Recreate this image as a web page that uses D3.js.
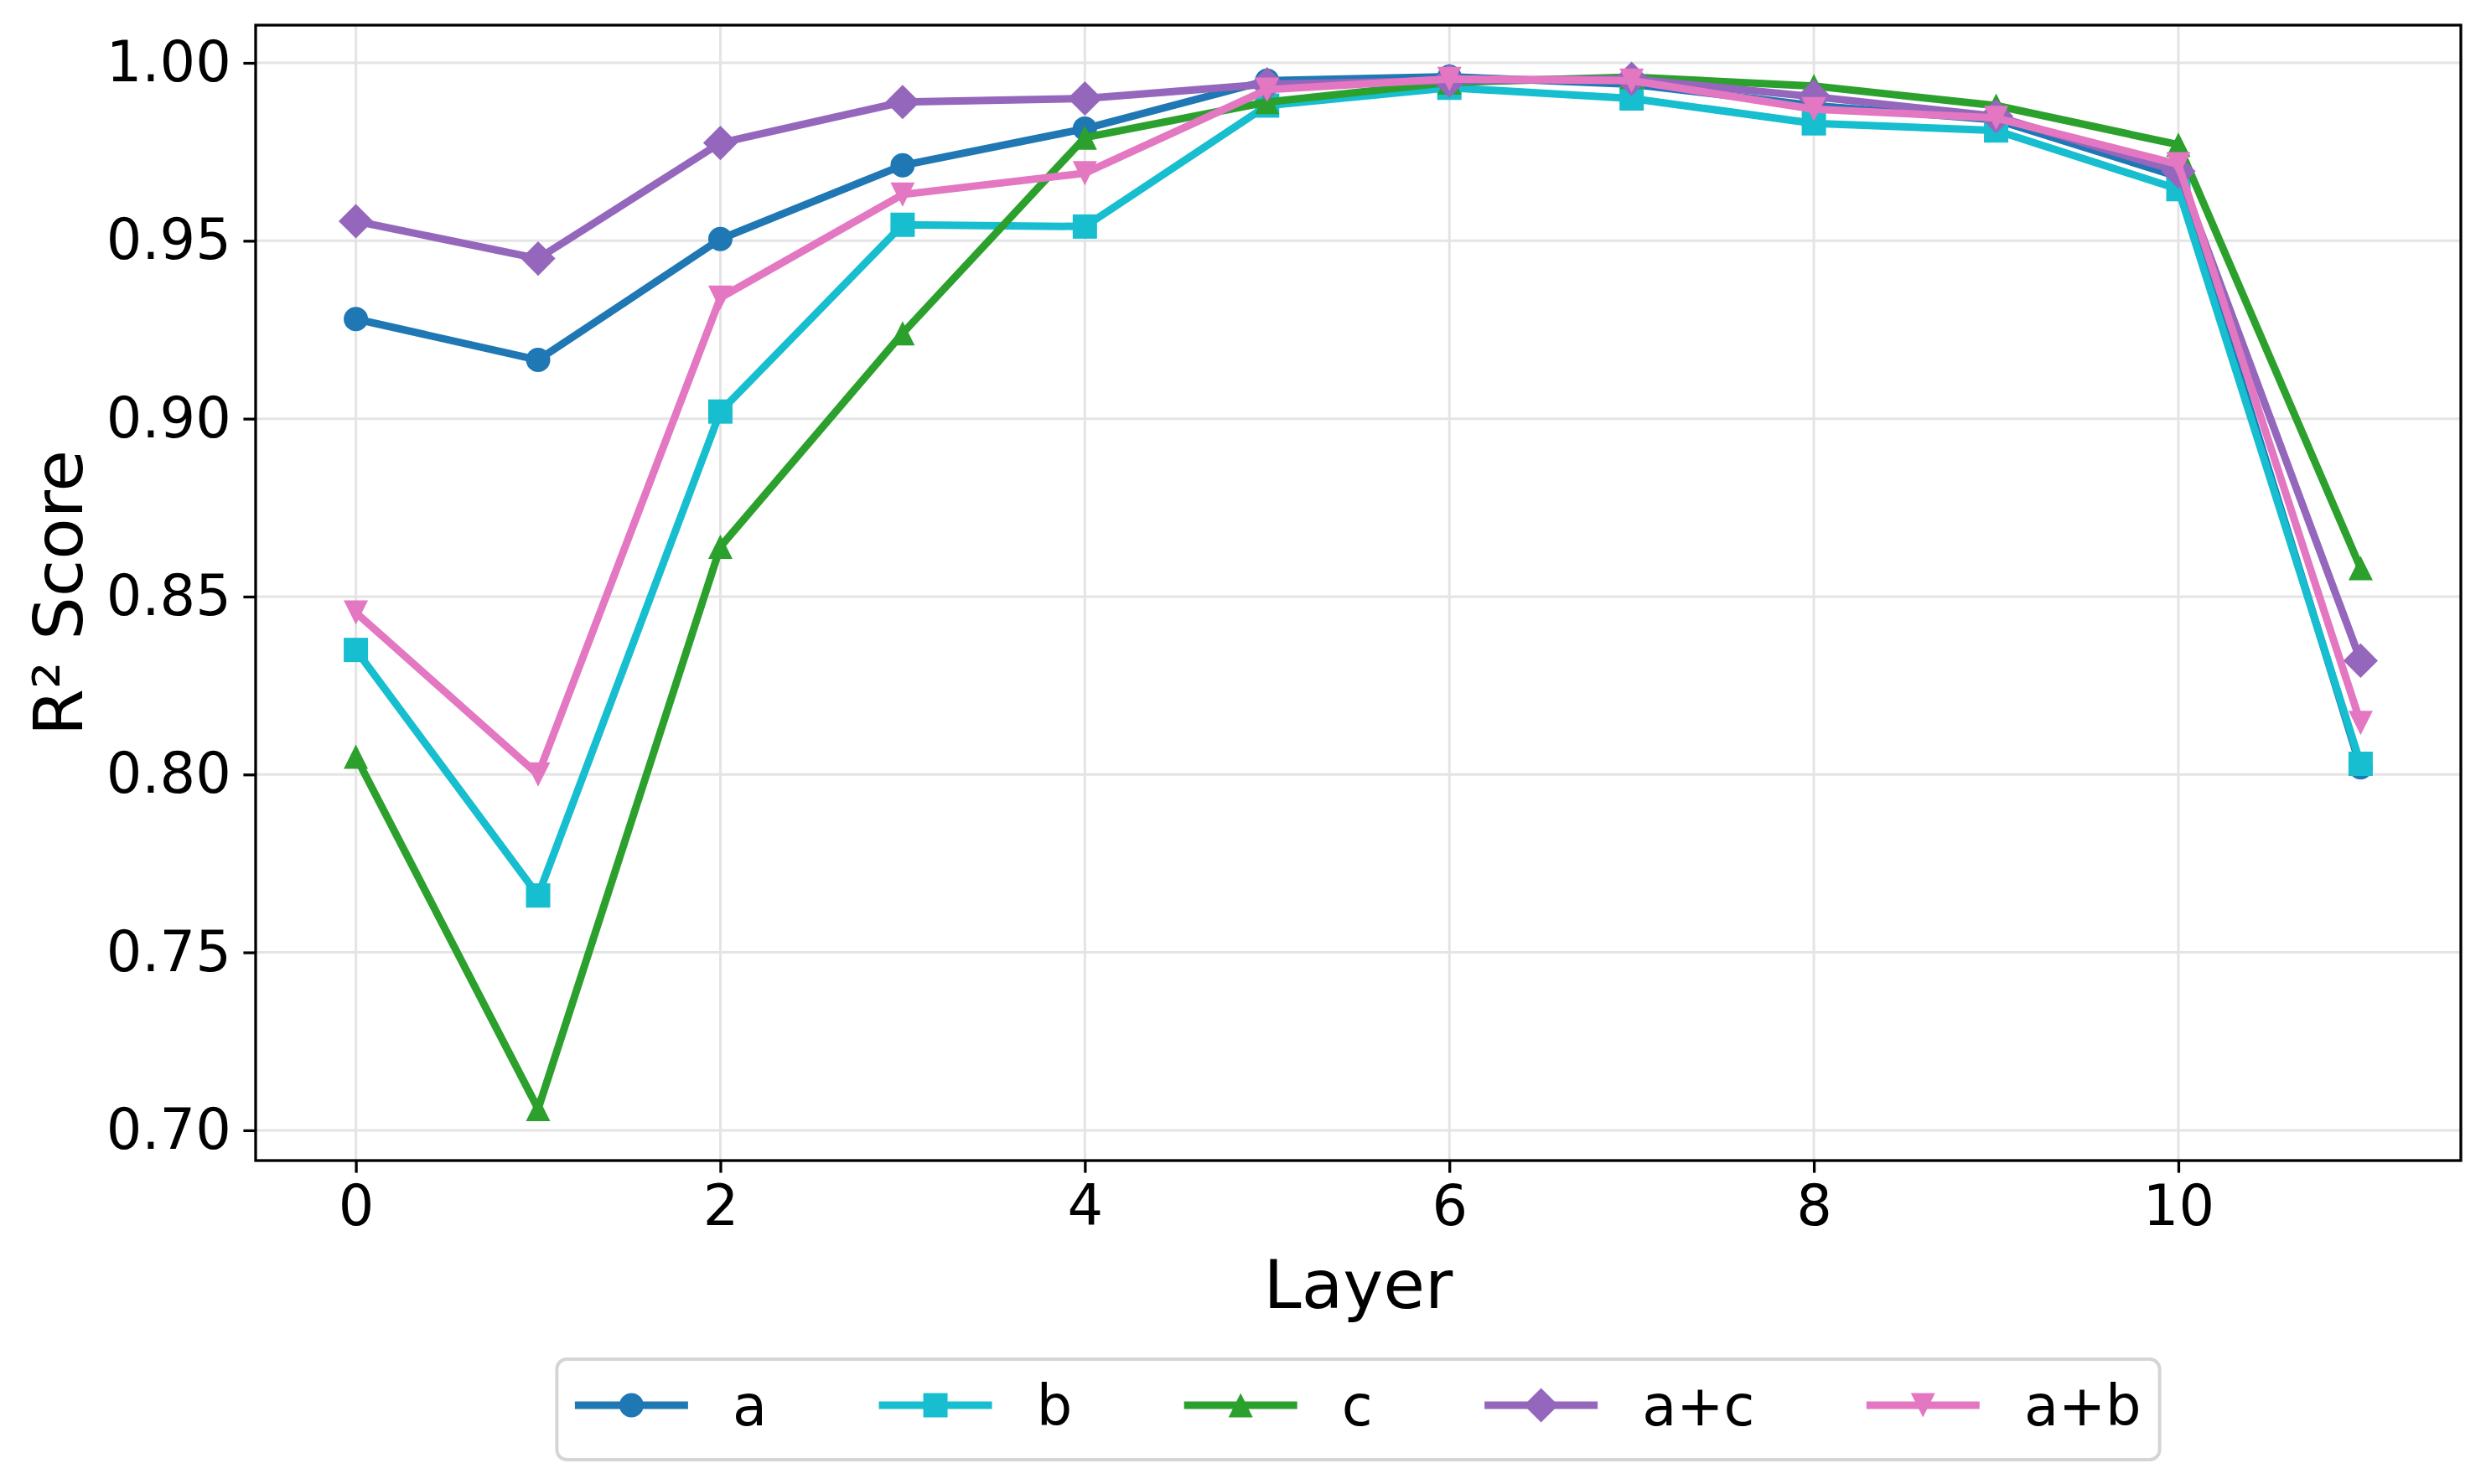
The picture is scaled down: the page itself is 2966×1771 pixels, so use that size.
<!DOCTYPE html>
<html>
<head>
<meta charset="utf-8">
<script src="https://cdn.jsdelivr.net/npm/d3@7"></script>
<style>
  body { margin: 0; background: #fff; }
  svg { display: block; font-family: "DejaVu Sans", sans-serif; }
</style>
</head>
<body>
<svg width="2966" height="1771"></svg>
<script>
// layers on the x axis
var layers = [0, 1, 2, 3, 4, 5, 6, 7, 8, 9, 10, 11];

// R² per layer
var seriesA = [0.928, 0.9165, 0.9505, 0.9712, 0.9815, 0.995, 0.9961, 0.994, 0.988, 0.984, 0.968, 0.802];
var seriesB = [0.835, 0.766, 0.902, 0.9545, 0.954, 0.988, 0.993, 0.990, 0.983, 0.981, 0.9645, 0.803];
var seriesC = [0.805, 0.706, 0.864, 0.924, 0.979, 0.989, 0.9945, 0.996, 0.9935, 0.988, 0.977, 0.858];
var seriesAC = [0.9555, 0.945, 0.9775, 0.989, 0.990, 0.994, 0.995, 0.9955, 0.9905, 0.985, 0.9695, 0.832];
var seriesAB = [0.8455, 0.800, 0.934, 0.963, 0.969, 0.9925, 0.9955, 0.995, 0.987, 0.9845, 0.9715, 0.8145];

var seriesNames = ["a", "b", "c", "a+c", "a+b"];
var xTicks = [0, 2, 4, 6, 8, 10];
var yTicks = [0.70, 0.75, 0.80, 0.85, 0.90, 0.95, 1.00];

function main() {
  var svg = d3.select("svg");

  // plot box (pixels)
  var left = 305, right = 2936, top = 30, bottom = 1385;

  var allSeries = [
    { name: seriesNames[0], values: seriesA, color: "#1f77b4", marker: "circle" },
    { name: seriesNames[1], values: seriesB, color: "#17becf", marker: "square" },
    { name: seriesNames[2], values: seriesC, color: "#2ca02c", marker: "triangle" },
    { name: seriesNames[3], values: seriesAC, color: "#9467bd", marker: "diamond" },
    { name: seriesNames[4], values: seriesAB, color: "#e377c2", marker: "triangleDown" }
  ];

  // matplotlib style 5% margins
  var xMin = d3.min(layers), xMax = d3.max(layers);
  var xPad = (xMax - xMin) * 0.05;
  var yMin = d3.min(allSeries, function (s) { return d3.min(s.values); });
  var yMax = d3.max(allSeries, function (s) { return d3.max(s.values); });
  var yPad = (yMax - yMin) * 0.05;

  var xScale = d3.scaleLinear().domain([xMin - xPad, xMax + xPad]).range([left, right]);
  var yScale = d3.scaleLinear().domain([yMin - yPad, yMax + yPad]).range([bottom, top]);

  // grid lines
  var grid = svg.append("g").attr("class", "grid");
  grid.selectAll(".gx").data(xTicks).enter().append("line")
    .attr("x1", function (d) { return xScale(d); })
    .attr("x2", function (d) { return xScale(d); })
    .attr("y1", top).attr("y2", bottom)
    .attr("stroke", "#e4e4e4").attr("stroke-width", 3);
  grid.selectAll(".gy").data(yTicks).enter().append("line")
    .attr("y1", function (d) { return yScale(d); })
    .attr("y2", function (d) { return yScale(d); })
    .attr("x1", left).attr("x2", right)
    .attr("stroke", "#e4e4e4").attr("stroke-width", 3);

  // axes
  var xAxis = svg.append("g")
    .attr("transform", "translate(0," + bottom + ")")
    .call(d3.axisBottom(xScale).tickValues(xTicks).tickSize(14.6).tickPadding(14.6).tickFormat(d3.format("d")));
  var yAxis = svg.append("g")
    .attr("transform", "translate(" + left + ",0)")
    .call(d3.axisLeft(yScale).tickValues(yTicks).tickSize(14.6).tickPadding(14.6).tickFormat(d3.format(".2f")));
  [xAxis, yAxis].forEach(function (ax) {
    ax.select(".domain").remove();
    ax.selectAll(".tick line").attr("stroke", "#000").attr("stroke-width", 3.3);
    ax.selectAll(".tick text")
      .attr("fill", "#000")
      .style("font-size", "67px")
      .style("font-family", "DejaVu Sans");
  });

  // symbols roughly like matplotlib markers (size 29px)
  var ms = 29;
  var symbolPath = {
    circle: d3.symbol().type(d3.symbolCircle).size(Math.PI * ms * ms / 4)(),
    square: d3.symbol().type(d3.symbolSquare).size(ms * ms)(),
    diamond: "M0," + (-ms * 0.71) + "L" + (ms * 0.71) + ",0L0," + (ms * 0.71) + "L" + (-ms * 0.71) + ",0Z",
    triangle: "M0," + (-ms / 2) + "L" + (ms / 2) + "," + (ms / 2) + "L" + (-ms / 2) + "," + (ms / 2) + "Z",
    triangleDown: "M0," + (ms / 2) + "L" + (ms / 2) + "," + (-ms / 2) + "L" + (-ms / 2) + "," + (-ms / 2) + "Z"
  };

  var line = d3.line()
    .x(function (d, i) { return xScale(layers[i]); })
    .y(function (d) { return yScale(d); });

  // clip to plot area
  svg.append("clipPath").attr("id", "plotClip").append("rect")
    .attr("x", left).attr("y", top).attr("width", right - left).attr("height", bottom - top);

  var plot = svg.append("g").attr("clip-path", "url(#plotClip)");
  allSeries.forEach(function (s) {
    var g = plot.append("g");
    g.append("path")
      .datum(s.values)
      .attr("d", line)
      .attr("fill", "none")
      .attr("stroke", s.color)
      .attr("stroke-width", 9)
      .attr("stroke-linejoin", "round")
      .attr("stroke-linecap", "square");
    g.selectAll("path.marker").data(s.values).enter().append("path")
      .attr("class", "marker")
      .attr("d", symbolPath[s.marker])
      .attr("transform", function (d, i) {
        return "translate(" + xScale(layers[i]) + "," + yScale(d) + ")";
      })
      .attr("fill", s.color);
  });

  // frame
  svg.append("rect")
    .attr("x", left).attr("y", top)
    .attr("width", right - left).attr("height", bottom - top)
    .attr("fill", "none").attr("stroke", "#000").attr("stroke-width", 3.3);

  // axis titles
  svg.append("text")
    .attr("x", (left + right) / 2).attr("y", 1561)
    .attr("text-anchor", "middle")
    .style("font-size", "81px")
    .text("Layer");
  svg.append("text")
    .attr("transform", "translate(98," + (top + bottom) / 2 + ") rotate(-90)")
    .attr("text-anchor", "middle")
    .style("font-size", "81px")
    .text("R² Score");

  // legend, laid out like a 5 column matplotlib legend
  var fs = 67, handleLen = 2 * fs, textPad = 0.8 * fs, colSpace = 2 * fs, boxPad = 22;
  var legendY = 1677;
  var legend = svg.append("g");
  var box = legend.append("rect");
  var items = legend.selectAll("g.item").data(allSeries).enter().append("g").attr("class", "item");
  items.append("text")
    .style("font-size", fs + "px")
    .attr("dy", "0.36em")
    .text(function (d) { return d.name; });
  var widths = [];
  items.select("text").each(function () { widths.push(this.getComputedTextLength()); });
  var total = d3.sum(widths) + allSeries.length * (handleLen + textPad) + (allSeries.length - 1) * colSpace;
  var x0 = (left + right) / 2 - total / 2;
  var cursor = x0;
  items.each(function (d, i) {
    var item = d3.select(this);
    var hx = cursor;
    item.insert("line", "text")
      .attr("x1", hx + 4).attr("x2", hx + handleLen - 4)
      .attr("y1", legendY).attr("y2", legendY)
      .attr("stroke", d.color).attr("stroke-width", 9)
      .attr("stroke-linecap", "square");
    item.insert("path", "text")
      .attr("d", symbolPath[d.marker])
      .attr("transform", "translate(" + (hx + handleLen / 2) + "," + legendY + ")")
      .attr("fill", d.color);
    item.select("text").attr("x", hx + handleLen + textPad).attr("y", legendY);
    cursor += handleLen + textPad + widths[i] + colSpace;
  });
  box.attr("x", x0 - boxPad).attr("y", 1622)
    .attr("width", total + 2 * boxPad).attr("height", 120)
    .attr("rx", 12).attr("ry", 12)
    .attr("fill", "#fff")
    .attr("stroke", "#d5d5d5").attr("stroke-width", 4);
}

main();
</script>
</body>
</html>
